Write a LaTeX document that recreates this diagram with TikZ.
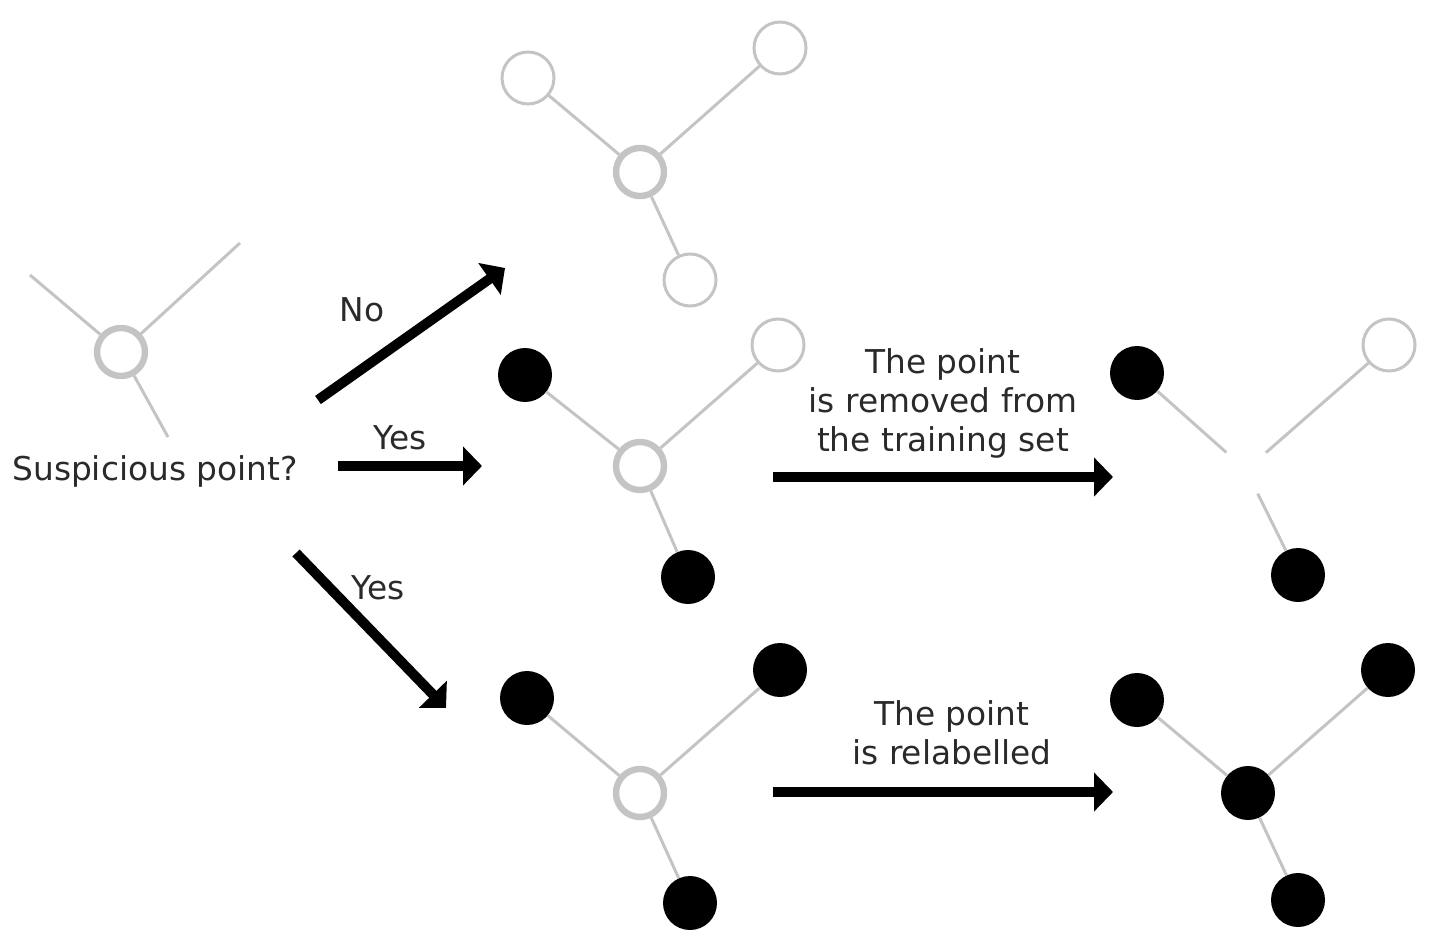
\documentclass[tikz,border=0pt]{standalone}
\usepackage{fontspec}
\setmainfont{DejaVu Sans}
\usetikzlibrary{positioning,arrows.meta}
\definecolor{edgegray}{HTML}{C4C4C4}
\definecolor{txtgray}{HTML}{2A2A2A}

\begin{document}
\begin{tikzpicture}[x=0.5pt,y=-0.5pt,
  leaf/.style={circle, draw=edgegray, line width=1.5pt, minimum size=26pt, inner sep=0pt},
  hit/.style={circle, fill=black, minimum size=27pt, inner sep=0pt},
  probe/.style={circle, draw=edgegray, line width=3.2pt, minimum size=24pt, inner sep=0pt},
  gone/.style={circle, minimum size=26pt, inner sep=0pt},
  edge/.style={draw=edgegray, line width=1.5pt},
  flow/.style={line width=5pt, -{Triangle[length=9.5pt,width=19pt]}},
  lbl/.style={text=txtgray, font=\fontsize{16.4}{19.5}\selectfont, align=center, inner sep=0pt}]
\useasboundingbox (0,0) rectangle (1433,946);

% the point in question
\node[probe] (qC) at (121,352) {};
\coordinate (qL) at (30,275);
\coordinate (qR) at (240,243);
\coordinate (qB) at (168,437);
\draw[edge] (qC) -- (qL) (qC) -- (qR) (qC) -- (qB);
\node[lbl] (qtext) at (155,471) {Suspicious point?};

% not suspicious
\node[probe] (noC) at (640,172) {};
\node[leaf] (noL) at (528,78) {};
\node[leaf] (noR) at (780,48) {};
\node[leaf] (noB) at (690,280) {};
\draw[edge] (noC) -- (noL) (noC) -- (noR) (noC) -- (noB);

% suspicious, removed
\node[probe] (ysC) at (640,466) {};
\node[hit] (ysL) at (525,375) {};
\node[leaf] (ysR) at (778,345) {};
\node[hit] (ysB) at (688,577) {};
\draw[edge] (ysC) -- (ysL) (ysC) -- (ysR) (ysC) -- (ysB);

\node[gone] (rmC) at (1246,470) {};
\node[hit] (rmL) at (1137,373) {};
\node[leaf] (rmR) at (1389,345) {};
\node[hit] (rmB) at (1298,575) {};
\draw[edge] (rmC) -- (rmL) (rmC) -- (rmR) (rmC) -- (rmB);

% suspicious, relabelled
\node[probe] (yrC) at (640,793) {};
\node[hit] (yrL) at (527,698) {};
\node[hit] (yrR) at (780,670) {};
\node[hit] (yrB) at (690,903) {};
\draw[edge] (yrC) -- (yrL) (yrC) -- (yrR) (yrC) -- (yrB);

\node[hit] (rlC) at (1248,793) {};
\node[hit] (rlL) at (1137,700) {};
\node[hit] (rlR) at (1388,670) {};
\node[hit] (rlB) at (1298,900) {};
\draw[edge] (rlC) -- (rlL) (rlC) -- (rlR) (rlC) -- (rlB);

% decisions
\coordinate (noS) at (318,400);
\coordinate (noE) at (505,268);
\coordinate (ysS) at (338,466);
\coordinate (ysE) at (482,466);
\coordinate (yrS) at (296,553);
\coordinate (yrE) at (446,708);
\coordinate (rmS) at (773,477);
\coordinate (rmE) at (1113,477);
\coordinate (rlS) at (773,792);
\coordinate (rlE) at (1113,792);
\draw[flow] (noS) -- (noE);
\draw[flow] (ysS) -- (ysE);
\draw[flow] (yrS) -- (yrE);
\draw[flow] (rmS) -- (rmE);
\draw[flow] (rlS) -- (rlE);

\node[lbl] (noT) at (362,310) {No};
\node[lbl] (ysT) at (400,438) {Yes};
\node[lbl] (yrT) at (378,588) {Yes};
\node[lbl] (rmT) at (943,403) {The point\\is removed from\\the training set};
\node[lbl] (rlT) at (952,733) {The point\\is relabelled};
\end{tikzpicture}
\end{document}
